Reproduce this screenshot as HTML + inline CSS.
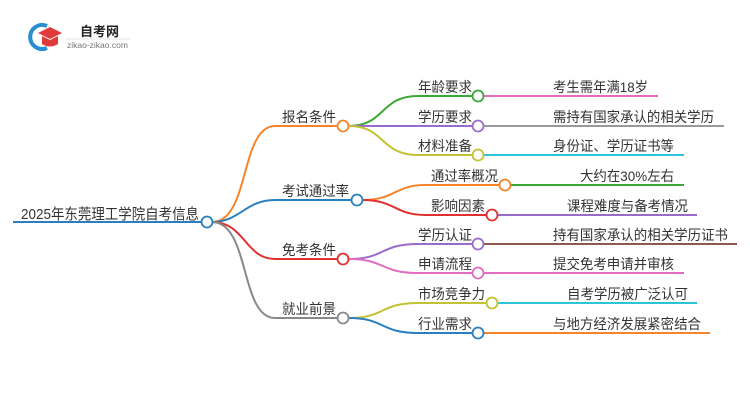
<!DOCTYPE html>
<html><head><meta charset="utf-8"><style>
html,body{margin:0;padding:0;background:#fff}
svg{display:block}
text{font-family:"Liberation Sans","Noto Sans CJK SC",sans-serif;fill:#333;font-size:14px}
</style></head><body>
<svg width="750" height="410" viewBox="0 0 750 410" xmlns="http://www.w3.org/2000/svg">
<!-- logo -->
<path d="M47 26 A12 12 0 1 0 47 48" fill="none" stroke="#2a8fd0" stroke-width="4"/>
<path d="M38 33 L50 27 L62 33 L50 39 Z" fill="#e03a3a"/>
<path d="M42 36 L42 44 Q50 49 58 44 L58 36 L50 40 Z" fill="#e03a3a"/>
<text x="80" y="36" style="font-size:13px;font-weight:bold;fill:#222">自考网</text>
<line x1="66" y1="39" x2="131" y2="39" stroke="#ddd" stroke-width="0.8"/>
<text x="67" y="48" style="font-size:8.5px;fill:#777">zikao-zikao.com</text>

<g fill="none" stroke-width="2">
<line x1="13" y1="222" x2="201" y2="222" stroke="#2a7fc1"/>
<path d="M212 222 C250 222 240 126 275 126 L337 126" stroke="#f5842a"/>
<path d="M212 222 C240 222 245 200 275 200 L351 200" stroke="#2a7fc1"/>
<path d="M212 222 C245 222 245 259 275 259 L337 259" stroke="#e03030"/>
<path d="M212 222 C250 222 240 318 275 318 L337 318" stroke="#888"/>
<path d="M349 126 C385 126 380 96 418 96 L472 96" stroke="#3aa836"/>
<path d="M349 126 L472 126" stroke="#9b6bcc"/>
<path d="M349 126 C385 126 380 155 418 155 L472 155" stroke="#c2c232"/>
<path d="M484 96 L658 96" stroke="#e46cc0"/>
<path d="M484 126 L724 126" stroke="#999"/>
<path d="M484 155 L684 155" stroke="#2ec4d8"/>
<path d="M363 200 C395 200 395 185 425 185 L499 185" stroke="#f5842a"/>
<path d="M363 200 C395 200 395 215 425 215 L486 215" stroke="#e03030"/>
<path d="M511 185 L684 185" stroke="#3aa836"/>
<path d="M498 215 L697 215" stroke="#9b6bcc"/>
<path d="M349 259 C385 259 380 244 418 244 L472 244" stroke="#9b6bcc"/>
<path d="M349 259 C385 259 380 273 418 273 L472 273" stroke="#e46cc0"/>
<path d="M484 244 L737 244" stroke="#8b5a4a"/>
<path d="M484 273 L684 273" stroke="#e46cc0"/>
<path d="M349 318 C385 318 380 303 418 303 L486 303" stroke="#c2c232"/>
<path d="M349 318 C385 318 380 333 418 333 L472 333" stroke="#2a7fc1"/>
<path d="M498 303 L697 303" stroke="#2ec4d8"/>
<path d="M484 333 L710 333" stroke="#f5842a"/>
</g>
<g fill="#fff" stroke-width="1.8">
<circle cx="207" cy="222" r="5.5" stroke="#2a7fc1"/>
<circle cx="343" cy="126" r="5.5" stroke="#f5842a"/>
<circle cx="357" cy="200" r="5.5" stroke="#2a7fc1"/>
<circle cx="343" cy="259" r="5.5" stroke="#e03030"/>
<circle cx="343" cy="318" r="5.5" stroke="#888"/>
<circle cx="478" cy="96" r="5.5" stroke="#3aa836"/>
<circle cx="478" cy="126" r="5.5" stroke="#9b6bcc"/>
<circle cx="478" cy="155" r="5.5" stroke="#c2c232"/>
<circle cx="505" cy="185" r="5.5" stroke="#f5842a"/>
<circle cx="492" cy="215" r="5.5" stroke="#e03030"/>
<circle cx="478" cy="244" r="5.5" stroke="#9b6bcc"/>
<circle cx="478" cy="273" r="5.5" stroke="#e46cc0"/>
<circle cx="492" cy="303" r="5.5" stroke="#c2c232"/>
<circle cx="478" cy="333" r="5.5" stroke="#2a7fc1"/>
</g>
<text x="21" y="219" textLength="178" lengthAdjust="spacingAndGlyphs" style="font-size:15px">2025年东莞理工学院自考信息</text>
<text x="282" y="122" textLength="54" lengthAdjust="spacingAndGlyphs">报名条件</text>
<text x="282" y="196" textLength="67" lengthAdjust="spacingAndGlyphs">考试通过率</text>
<text x="282" y="255" textLength="54" lengthAdjust="spacingAndGlyphs">免考条件</text>
<text x="282" y="314" textLength="54" lengthAdjust="spacingAndGlyphs">就业前景</text>
<text x="418" y="92" textLength="54" lengthAdjust="spacingAndGlyphs">年龄要求</text>
<text x="418" y="122" textLength="54" lengthAdjust="spacingAndGlyphs">学历要求</text>
<text x="418" y="151" textLength="54" lengthAdjust="spacingAndGlyphs">材料准备</text>
<text x="431" y="181" textLength="67" lengthAdjust="spacingAndGlyphs">通过率概况</text>
<text x="431" y="211" textLength="54" lengthAdjust="spacingAndGlyphs">影响因素</text>
<text x="418" y="240" textLength="54" lengthAdjust="spacingAndGlyphs">学历认证</text>
<text x="418" y="269" textLength="54" lengthAdjust="spacingAndGlyphs">申请流程</text>
<text x="418" y="299" textLength="67" lengthAdjust="spacingAndGlyphs">市场竞争力</text>
<text x="418" y="329" textLength="54" lengthAdjust="spacingAndGlyphs">行业需求</text>
<text x="553" y="92" textLength="95" lengthAdjust="spacingAndGlyphs">考生需年满18岁</text>
<text x="553" y="122" textLength="161" lengthAdjust="spacingAndGlyphs">需持有国家承认的相关学历</text>
<text x="553" y="151" textLength="121" lengthAdjust="spacingAndGlyphs">身份证、学历证书等</text>
<text x="580" y="181" textLength="94" lengthAdjust="spacingAndGlyphs">大约在30%左右</text>
<text x="567" y="211" textLength="121" lengthAdjust="spacingAndGlyphs">课程难度与备考情况</text>
<text x="553" y="240" textLength="175" lengthAdjust="spacingAndGlyphs">持有国家承认的相关学历证书</text>
<text x="553" y="269" textLength="121" lengthAdjust="spacingAndGlyphs">提交免考申请并审核</text>
<text x="567" y="299" textLength="121" lengthAdjust="spacingAndGlyphs">自考学历被广泛认可</text>
<text x="553" y="329" textLength="148" lengthAdjust="spacingAndGlyphs">与地方经济发展紧密结合</text>
</svg>
</body></html>
